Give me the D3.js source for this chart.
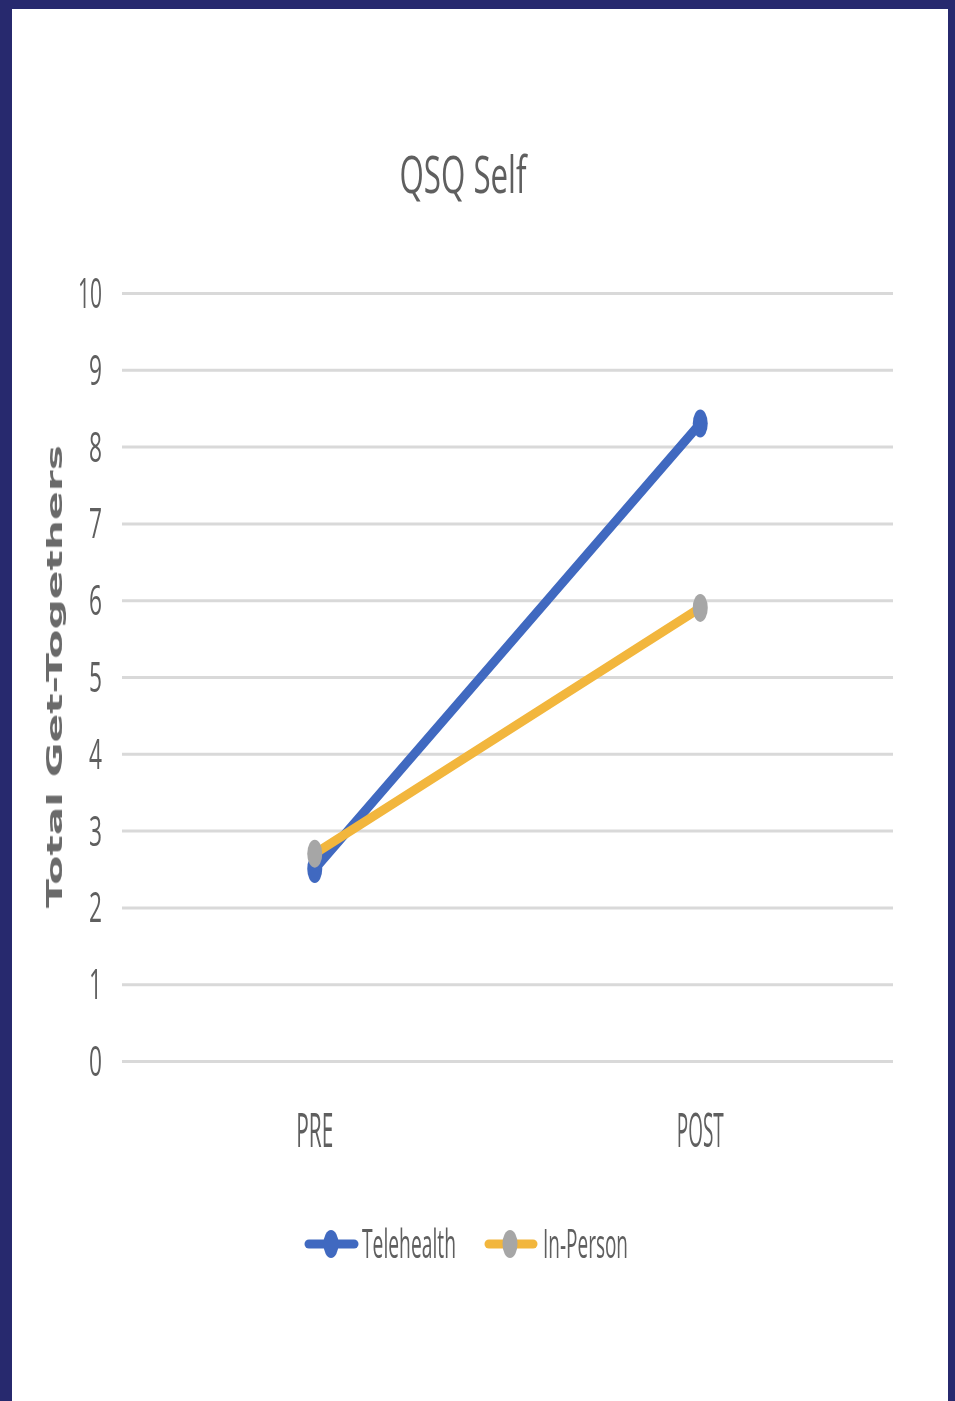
<!DOCTYPE html>
<html>
<head>
<meta charset="utf-8">
<script src="https://cdn.jsdelivr.net/npm/d3@7/dist/d3.min.js"></script>
<style>
  html, body { margin: 0; padding: 0; background: #ffffff; }
  svg { display: block; }
</style>
</head>
<body>
<svg id="chart" width="955" height="1401"></svg>
<script>
// Chart data
const categories = ["PRE", "POST"];
const seriesNames = ["Telehealth", "In-Person"];
const telehealthValues = [2.5, 8.3];
const inPersonValues = [2.7, 5.9];
const yTicks = [0, 1, 2, 3, 4, 5, 6, 7, 8, 9, 10];
const titleText = "QSQ Self";
const yAxisTitle = "Total Get-Togethers";

const series = [
  { name: seriesNames[0], values: telehealthValues, line: "#4169c0", marker: "#4169c0" },
  { name: seriesNames[1], values: inPersonValues, line: "#f2b63c", marker: "#a6a6a6" }
];

const W = 955, H = 1401;
const svg = d3.select("#chart");
const textColor = "#5f5f5f";

// Soft look of the whole slide
const defs = svg.append("defs");
defs.append("filter").attr("id", "soft")
  .append("feGaussianBlur").attr("stdDeviation", 0.7);

// Slide background and navy frame
svg.append("rect").attr("width", W).attr("height", H).attr("fill", "#27296e");
svg.append("rect").attr("x", 12).attr("y", 9).attr("width", 936).attr("height", H - 9)
  .attr("fill", "#ffffff");

const g = svg.append("g").attr("filter", "url(#soft)");

// Scales
const plot = { left: 122, right: 893, top: 293, bottom: 1061 };
const x = d3.scalePoint().domain(categories).range([plot.left, plot.right]).padding(0.5);
const y = d3.scaleLinear().domain([0, 10]).range([plot.bottom, plot.top]);

// Helper: condensed text drawn to a given width
function label(parent, txt, px, py, size, width, anchor, weight, family) {
  return parent.append("text")
    .attr("x", px).attr("y", py)
    .attr("font-family", family || "'Open Sans', 'Noto Sans', sans-serif")
    .attr("font-size", size)
    .attr("font-weight", weight || 400)
    .attr("fill", textColor)
    .attr("text-anchor", anchor || "start")
    .attr("textLength", width)
    .attr("lengthAdjust", "spacingAndGlyphs")
    .text(txt);
}

// Title
label(g, titleText, 463, 193, 52, 127, "middle");

// Gridlines via axis
const yAxis = d3.axisLeft(y).tickValues(yTicks).tickSize(-(plot.right - plot.left)).tickFormat("");
const ya = g.append("g").attr("transform", `translate(${plot.left},0)`).call(yAxis);
ya.select(".domain").remove();
ya.selectAll(".tick text").remove();
ya.selectAll(".tick line").attr("stroke", "#d9d9d9").attr("stroke-width", 3);

// Y tick labels
yTicks.forEach(t => {
  const s = String(t);
  label(g, s, 102, y(t) + 15, 42, s.length === 1 ? 13 : 24, "end");
});

// Y axis title
g.append("text")
  .attr("transform", `translate(62, ${(445 + 908) / 2}) rotate(-90)`)
  .attr("font-family", "'DejaVu Sans', Verdana, sans-serif")
  .attr("font-size", 22)
  .attr("font-weight", 700)
  .attr("fill", "#6a6a6a")
  .attr("text-anchor", "middle")
  .attr("textLength", 463)
  .attr("lengthAdjust", "spacingAndGlyphs")
  .text(yAxisTitle);

// Category labels
categories.forEach((c, i) => {
  label(g, c, x(c), 1147, 47, i === 0 ? 37 : 47, "middle");
});

// Lines and markers
const lineGen = d3.line().x((d, i) => x(categories[i])).y(d => y(d));
series.forEach(s => {
  g.append("path")
    .datum(s.values)
    .attr("d", lineGen)
    .attr("fill", "none")
    .attr("stroke", s.line)
    .attr("stroke-width", 9)
    .attr("stroke-linecap", "round");
  g.selectAll(null)
    .data(s.values)
    .enter().append("ellipse")
    .attr("cx", (d, i) => x(categories[i]))
    .attr("cy", d => y(d))
    .attr("rx", 7.5)
    .attr("ry", 14)
    .attr("fill", s.marker);
});

// Legend
const legendItems = [
  { s: series[0], x0: 309, x1: 354, mx: 331, tx: 362, tw: 94 },
  { s: series[1], x0: 489, x1: 533, mx: 510, tx: 543, tw: 85 }
];
const ly = 1244;
legendItems.forEach(it => {
  g.append("line")
    .attr("x1", it.x0).attr("x2", it.x1).attr("y1", ly).attr("y2", ly)
    .attr("stroke", it.s.line).attr("stroke-width", 9).attr("stroke-linecap", "round");
  g.append("ellipse")
    .attr("cx", it.mx).attr("cy", ly).attr("rx", 7.5).attr("ry", 14)
    .attr("fill", it.s.marker);
  label(g, it.s.name, it.tx, 1258, 40, it.tw, "start");
});
</script>
</body>
</html>
